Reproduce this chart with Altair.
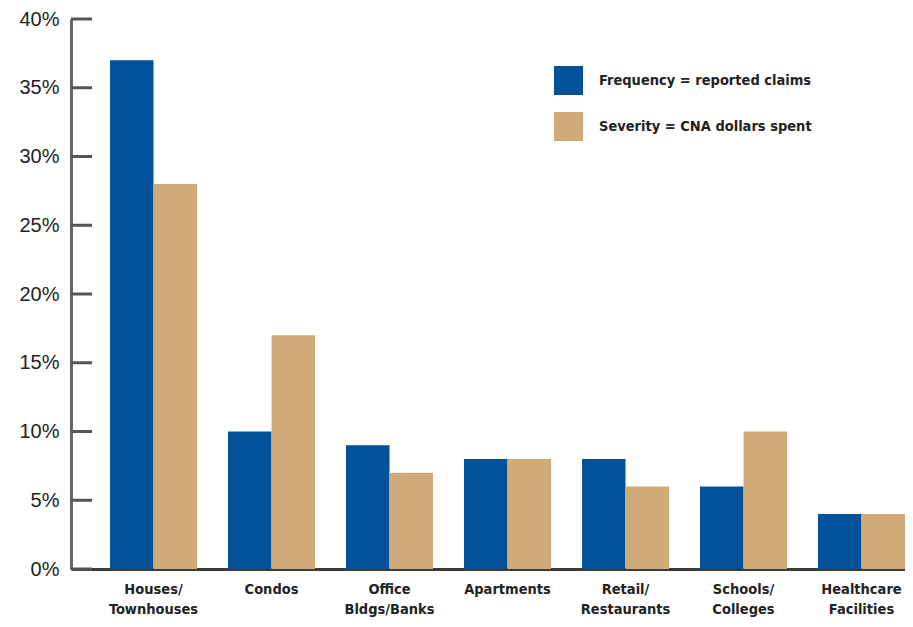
import altair as alt
import pandas as pd

categories = ["Houses/|Townhouses", "Condos", "Office|Bldgs/Banks", "Apartments",
              "Retail/|Restaurants", "Schools/|Colleges", "Healthcare|Facilities"]
frequency = [37, 10, 9, 8, 8, 6, 4]
severity = [28, 17, 7, 8, 6, 10, 4]
series_names = ["Frequency = reported claims", "Severity = CNA dollars spent"]
series_colors = ["#01529B", "#D1AB77"]
y_ticks = [0, 5, 10, 15, 20, 25, 30, 35, 40]

rows = []
for c, f, s in zip(categories, frequency, severity):
    rows.append({"cat": c, "series": series_names[0], "value": f})
    rows.append({"cat": c, "series": series_names[1], "value": s})
df = pd.DataFrame(rows)
ticks_df = pd.DataFrame({"v": y_ticks})

COND = "Liberation Sans Narrow, DejaVu Sans Condensed, sans-serif"

bars = alt.Chart(df).mark_bar().encode(
    x=alt.X("cat:N", sort=categories,
            scale=alt.Scale(paddingInner=0.2627, paddingOuter=0.1653, align=1, round=False),
            axis=alt.Axis(title=None, labelAngle=0, ticks=False,
                          labelExpr="split(datum.value, '|')",
                          labelFont=COND, labelFontSize=14.5, labelFontWeight="bold",
                          labelColor="#222", labelPadding=13, labelLineHeight=20,
                          labelBaseline="top",
                          domainColor="#3a3a3a", domainWidth=3)),
    xOffset=alt.XOffset("series:N", sort=series_names,
                        scale=alt.Scale(paddingInner=0, paddingOuter=0, round=False)),
    y=alt.Y("value:Q", scale=alt.Scale(domain=[0, 40], nice=False),
            axis=alt.Axis(title=None, values=y_ticks, ticks=False, grid=False,
                          labelExpr="datum.value + '%'",
                          labelFont="Liberation Sans", labelFontSize=20,
                          labelColor="#222", labelPadding=12,
                          domainColor="#666", domainWidth=3)),
    color=alt.Color("series:N", sort=series_names,
                    scale=alt.Scale(domain=series_names, range=series_colors),
                    legend=alt.Legend(title=None, orient="none", legendX=483, legendY=47,
                                      symbolType="square", symbolSize=841,
                                      symbolStrokeWidth=0, symbolOpacity=1,
                                      labelFont=COND, labelFontSize=14.5,
                                      labelFontWeight="bold", labelColor="#222",
                                      labelOffset=16, rowPadding=17, labelLimit=400)),
)

tick_rules = alt.Chart(ticks_df).mark_rule(color="#555", strokeWidth=3).encode(
    y=alt.Y("v:Q"),
    x=alt.value(0),
    x2=alt.value(21),
)

chart = alt.layer(bars, tick_rules).properties(
    width=834, height=550,
    autosize=alt.AutoSizeParams(type="none"),
    padding={"left": 63, "top": 11, "right": 0, "bottom": 50},
).configure_view(stroke=None)

chart.save("out.html", embed_options={"renderer": "svg", "actions": False})
